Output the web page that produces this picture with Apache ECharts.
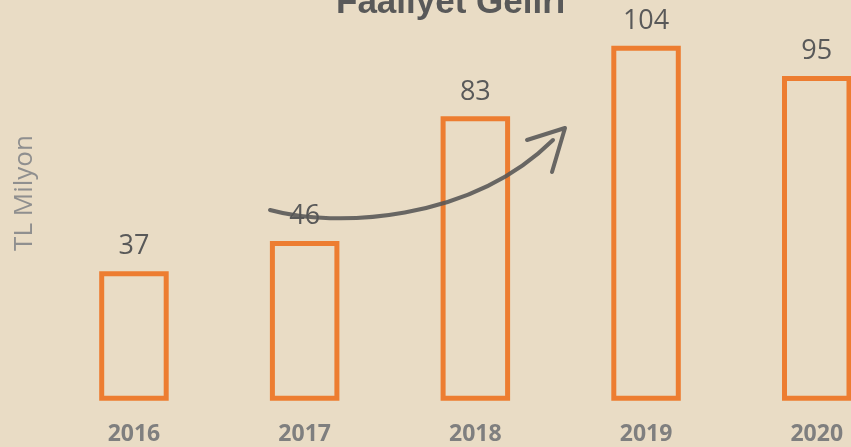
<!DOCTYPE html>
<html>
<head>
<meta charset="utf-8">
<script src="https://cdn.jsdelivr.net/npm/echarts@6/dist/echarts.min.js"></script>
<style>
html,body{margin:0;padding:0;background:#E9DCC5;}
#c{width:851px;height:447px;}
</style>
</head>
<body>
<div id="c"></div>
<script>
const categories = ['2016', '2017', '2018', '2019', '2020'];
const values = [37, 46, 83, 104, 95];
const titleText = 'Faaliyet Geliri';
const yName = 'TL Milyon';

const BAR_W = 64.5;
const chart = echarts.init(document.getElementById('c'));
chart.setOption({
  backgroundColor: '#E9DCC5',
  animation: false,
  title: {
    text: titleText,
    left: 331,
    top: -19,
    textStyle: { fontFamily: 'Liberation Sans', fontWeight: 'bold', fontSize: 35, color: '#595959' }
  },
  grid: { left: 48.6, width: 853.5, top: 28, bottom: 48.8, containLabel: false, outerBoundsMode: 'none' },
  xAxis: {
    type: 'category',
    data: categories,
    axisLine: { show: false },
    axisTick: { show: false },
    axisLabel: { margin: 25, fontFamily: 'Open Sans', fontWeight: 'bold', fontSize: 23, color: '#7F7F7F' }
  },
  yAxis: {
    type: 'value', min: 0, max: 110,
    show: false,
    splitLine: { show: false }
  },
  series: [{
    type: 'custom',
    data: categories.map((c, i) => [c, values[i]]),
    encode: { x: 0, y: 1 },
    renderItem: function (params, api) {
      const xi = api.value(0), v = api.value(1);
      const top = api.coord([xi, v]);
      const base = api.coord([xi, 0]);
      return {
        type: 'rect',
        shape: { x: top[0] - BAR_W / 2, y: top[1], width: BAR_W, height: base[1] - top[1] },
        style: { fill: 'none', stroke: '#ED7D31', lineWidth: 5 },
        textContent: {
          style: { text: String(v), fontFamily: 'Open Sans', fontSize: 27, fill: '#595959' }
        },
        textConfig: { position: 'top', distance: 11 }
      };
    }
  }],
  graphic: [
    {
      type: 'text', x: 25, y: 193, rotation: Math.PI / 2,
      style: { text: yName, fontFamily: 'Open Sans', fontSize: 26, fill: '#8F8F8F', textAlign: 'center', textVerticalAlign: 'middle' }
    },
    {
      type: 'bezierCurve', z: 100,
      shape: { x1: 270, y1: 210, cpx1: 335, cpy1: 228, cpx2: 470, cpy2: 222, x2: 553, y2: 140 },
      style: { stroke: '#555555', lineWidth: 4, fill: null, lineCap: 'round', opacity: 0.88 }
    },
    {
      type: 'polyline', z: 100,
      shape: { points: [[527, 140], [565, 128], [552, 172]] },
      style: { stroke: '#555555', lineWidth: 4, fill: null, lineCap: 'round', lineJoin: 'round', opacity: 0.88 }
    }
  ]
});
</script>
</body>
</html>
